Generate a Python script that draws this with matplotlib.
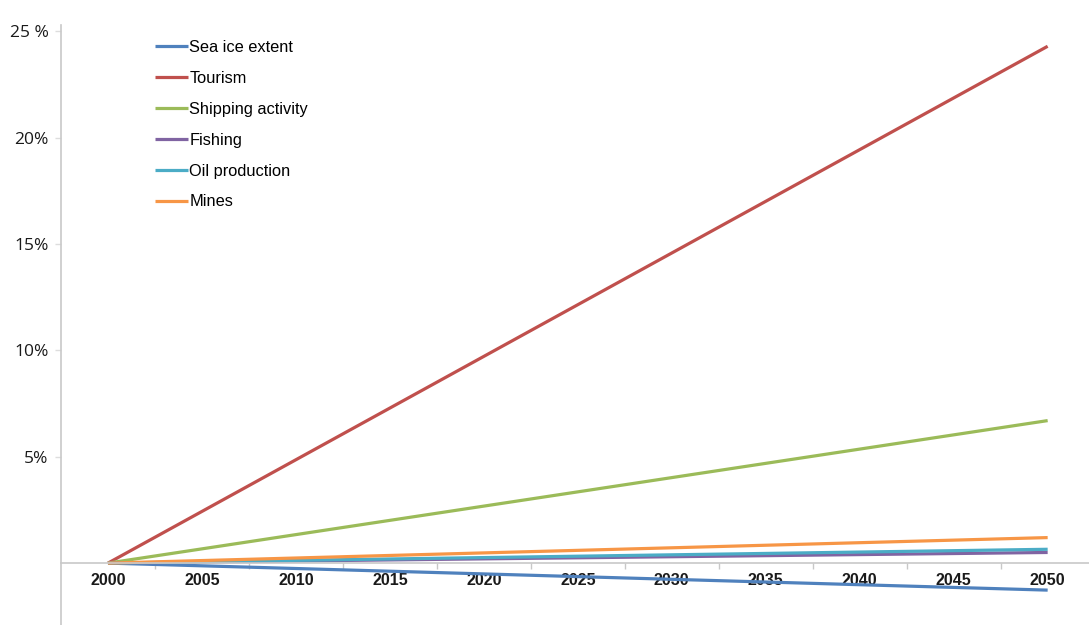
import matplotlib.pyplot as plt

years = [2000, 2050]
tick_years = list(range(2000, 2051, 5))

series_names = ["Sea ice extent", "Tourism", "Shipping activity", "Fishing", "Oil production", "Mines"]
sea_ice = [0.0, -1.27]
tourism = [0.0, 24.3]
shipping = [0.0, 6.7]
fishing = [0.0, 0.5]
oil = [0.0, 0.65]
mines = [0.0, 1.2]
series_colors = ["#4F81BD", "#C0504D", "#9BBB59", "#8064A2", "#4BACC6", "#F79646"]

y_ticks = [5, 10, 15, 20, 25]
y_labels = ["5%", "10%", "15%", "20%", "25 %"]

fig = plt.figure(figsize=(10.89, 6.25), dpi=100)
ax = fig.add_axes([61 / 1089, 0, 1 - 61 / 1089, 1 - 25 / 625])

all_series = [sea_ice, tourism, shipping, fishing, oil, mines]
for name, vals, col in zip(series_names, all_series, series_colors):
    ax.plot(years, vals, color=col, lw=2.3, label=name, solid_capstyle="butt")

ax.set_xlim(1997.5, 2052.2)
ax.set_ylim(-2.91, 25.3)

# axes look
for s in ["top", "right"]:
    ax.spines[s].set_visible(False)
ax.spines["left"].set_color("#c8c8c8")
ax.spines["left"].set_linewidth(1.2)
ax.spines["bottom"].set_position(("data", 0))
ax.spines["bottom"].set_color("#c8c8c8")
ax.spines["bottom"].set_linewidth(1.2)
ax.set_zorder(1)

ax.set_xticks(tick_years)
ax.set_xticklabels([str(y) for y in tick_years], fontfamily=["Liberation Sans Narrow", "Liberation Sans"],
                   fontweight="bold", fontsize=11.5, color="#1a1a1a")
ax.set_xticks([y + 2.5 for y in tick_years[:-1]], minor=True)
ax.tick_params(axis="x", which="major", length=0, pad=7)
ax.tick_params(axis="x", which="minor", length=4, color="#c8c8c8", width=1)

ax.set_yticks(y_ticks)
ax.set_yticklabels(y_labels, fontfamily="Open Sans", fontsize=12.5, color="#1a1a1a")
ax.tick_params(axis="y", length=4, color="#dddddd", width=1, pad=5)

fig.legend(loc="upper left", bbox_to_anchor=(155 / 1089, 1 - 40 / 625),
           frameon=False, handlelength=2.0, handletextpad=0.1, labelspacing=0.97,
           borderpad=0, borderaxespad=0,
           prop={"family": "Liberation Sans", "size": 11.8})

fig.savefig("out.png", dpi=100)
